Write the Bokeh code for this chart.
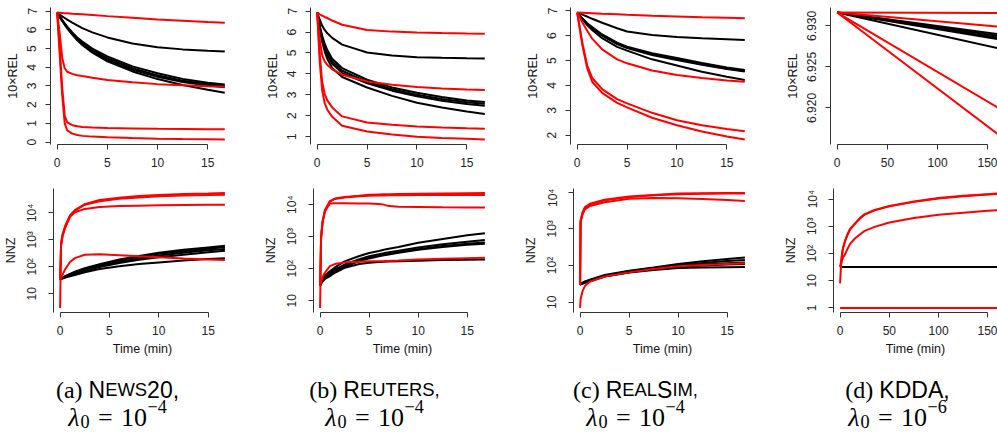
import math
from bokeh.plotting import figure
from bokeh.layouts import row, column
from bokeh.models import Range1d, FixedTicker, Label, PrintfTickFormatter
from bokeh.embed import file_html
from bokeh.resources import INLINE

# ------------------------------------------------------------------ data
# ---- NEWS20 ----
NEWS20_T_REL = [0, 0.25, 0.5, 0.75, 1, 1.5, 2, 2.5, 3.5, 5, 7.5, 10, 12.5, 15, 16.7]
NEWS20_REL_RED = [
    [6.93, 6.92, 6.91, 6.90, 6.89, 6.87, 6.86, 6.84, 6.80, 6.74, 6.65, 6.56, 6.49, 6.42, 6.38],
    [6.93, 5.80, 4.50, 3.95, 3.76, 3.65, 3.58, 3.53, 3.44, 3.32, 3.20, 3.10, 3.04, 2.99, 2.96],
    [6.93, 5.00, 2.90, 1.40, 1.05, 0.90, 0.84, 0.81, 0.78, 0.75, 0.73, 0.71, 0.70, 0.69, 0.68],
    [6.93, 4.70, 2.50, 1.00, 0.62, 0.45, 0.38, 0.33, 0.29, 0.25, 0.21, 0.18, 0.16, 0.15, 0.14],
]
NEWS20_REL_BLACK = [
    [6.93, 6.83, 6.73, 6.64, 6.55, 6.39, 6.24, 6.10, 5.87, 5.60, 5.27, 5.08, 4.96, 4.88, 4.84],
    [6.93, 6.72, 6.53, 6.35, 6.18, 5.87, 5.60, 5.38, 5.00, 4.58, 4.05, 3.68, 3.38, 3.17, 3.08],
    [6.93, 6.71, 6.51, 6.32, 6.14, 5.82, 5.54, 5.31, 4.92, 4.48, 3.95, 3.57, 3.28, 3.09, 3.00],
    [6.93, 6.70, 6.49, 6.29, 6.11, 5.78, 5.49, 5.25, 4.85, 4.40, 3.87, 3.49, 3.21, 3.03, 2.93],
    [6.93, 6.70, 6.48, 6.28, 6.09, 5.75, 5.45, 5.20, 4.78, 4.32, 3.78, 3.37, 3.05, 2.80, 2.64],
]
NEWS20_T_NNZ = [0, 0.1, 0.25, 0.5, 1, 1.5, 2.5, 4, 6, 8, 10, 12.5, 15, 16.7]
NEWS20_NNZ_RED = [
    [3, 800, 1600, 3200, 8000, 12600, 21000, 30000, 36000, 42000, 46000, 50000, 52000, 54000],
    [33, 630, 1400, 2800, 7600, 12000, 20000, 27000, 33000, 37000, 41000, 44000, 46000, 47000],
    [33, 630, 1400, 2800, 7100, 10500, 14000, 16600, 17800, 18400, 19000, 19500, 19800, 20000],
    [33, 40, 50, 80, 150, 210, 280, 295, 270, 245, 225, 205, 188, 178],
]
NEWS20_NNZ_BLACK = [
    [35, 37, 40, 45, 55, 66, 89, 126, 186, 251, 331, 427, 525, 603],
    [35, 37, 39, 44, 52, 63, 83, 117, 174, 234, 302, 380, 468, 537],
    [35, 36, 38, 42, 50, 59, 79, 107, 155, 204, 263, 331, 407, 457],
    [35, 36, 37, 41, 48, 55, 71, 98, 138, 182, 224, 282, 347, 398],
    [35, 36, 37, 40, 45, 50, 63, 83, 105, 126, 145, 170, 195, 209],
]

# ---- REUTERS ----
REUTERS_T_REL = [0, 0.25, 0.5, 0.75, 1, 1.5, 2.5, 5, 7.5, 10, 12.5, 15, 16.8]
REUTERS_REL_RED = [
    [6.93, 6.85, 6.78, 6.72, 6.67, 6.55, 6.35, 6.10, 6.02, 5.98, 5.95, 5.93, 5.92],
    [6.93, 5.63, 4.90, 4.60, 4.44, 4.22, 3.96, 3.64, 3.48, 3.37, 3.30, 3.25, 3.23],
    [6.93, 5.00, 3.60, 3.05, 2.75, 2.40, 1.97, 1.68, 1.57, 1.49, 1.44, 1.40, 1.38],
    [6.93, 4.60, 3.20, 2.60, 2.30, 1.95, 1.52, 1.25, 1.10, 1.00, 0.94, 0.90, 0.87],
]
REUTERS_REL_BLACK = [
    [6.93, 6.60, 6.30, 6.10, 5.95, 5.72, 5.40, 5.02, 4.88, 4.80, 4.77, 4.75, 4.74],
    [6.93, 6.30, 5.82, 5.45, 5.15, 4.72, 4.28, 3.72, 3.35, 3.10, 2.90, 2.73, 2.66],
    [6.93, 6.25, 5.74, 5.35, 5.04, 4.60, 4.15, 3.62, 3.27, 3.00, 2.80, 2.65, 2.58],
    [6.93, 6.20, 5.66, 5.25, 4.93, 4.49, 4.05, 3.55, 3.20, 2.93, 2.72, 2.56, 2.48],
    [6.93, 6.10, 5.52, 5.08, 4.74, 4.28, 3.85, 3.35, 2.95, 2.62, 2.40, 2.20, 2.08],
]
REUTERS_T_NNZ = [0, 0.1, 0.25, 0.5, 1, 1.5, 2.5, 4, 5, 6, 6.5, 7, 8, 10, 12.5, 15, 16.8]
REUTERS_NNZ_RED = [
    [6, 1000, 3000, 6800, 12900, 15500, 17400, 19000, 20400, 20800, 21000, 21100, 21400, 21800, 22300, 22700, 22900],
    [30, 900, 2800, 6500, 12500, 15000, 16800, 18200, 19000, 19300, 19400, 19500, 19700, 19900, 20000, 20100, 20000],
    [30, 900, 2800, 6200, 10900, 11000, 11000, 10900, 10800, 10500, 10000, 9000, 8600, 8500, 8300, 8200, 8100],
    [30, 40, 55, 76, 120, 140, 158, 165, 170, 172, 173, 175, 180, 195, 205, 213, 219],
]
REUTERS_NNZ_BLACK = [
    [30, 38, 48, 62, 83, 110, 170, 250, 309, 360, 390, 420, 480, 645, 850, 1100, 1290],
    [30, 36, 44, 56, 74, 95, 135, 200, 245, 285, 305, 325, 365, 457, 580, 700, 794],
    [30, 35, 42, 52, 66, 85, 120, 180, 219, 255, 273, 290, 325, 407, 510, 600, 660],
    [30, 35, 41, 51, 64, 82, 115, 172, 210, 245, 262, 280, 315, 390, 480, 560, 600],
    [30, 34, 40, 48, 59, 75, 107, 140, 155, 162, 165, 168, 172, 178, 186, 191, 195],
]

# ---- REALSIM ----
REALSIM_T_REL = [0, 0.5, 1, 1.5, 2.5, 4, 5, 7.5, 10, 12.5, 15, 16.8]
REALSIM_REL_RED = [
    [6.93, 6.92, 6.91, 6.90, 6.88, 6.86, 6.84, 6.80, 6.77, 6.74, 6.72, 6.70],
    [6.93, 6.55, 6.20, 5.88, 5.45, 5.05, 4.89, 4.60, 4.42, 4.30, 4.20, 4.15],
    [6.93, 5.75, 4.80, 4.30, 3.85, 3.45, 3.28, 2.90, 2.60, 2.40, 2.25, 2.16],
    [6.93, 5.65, 4.70, 4.15, 3.70, 3.30, 3.12, 2.70, 2.40, 2.15, 1.95, 1.83],
]
REALSIM_REL_BLACK = [
    [6.93, 6.85, 6.77, 6.68, 6.52, 6.30, 6.17, 6.03, 5.95, 5.90, 5.86, 5.83],
    [6.93, 6.70, 6.50, 6.35, 6.05, 5.72, 5.56, 5.30, 5.10, 4.90, 4.72, 4.62],
    [6.93, 6.69, 6.48, 6.32, 6.02, 5.68, 5.52, 5.25, 5.05, 4.85, 4.68, 4.58],
    [6.93, 6.68, 6.47, 6.30, 6.00, 5.66, 5.50, 5.22, 5.02, 4.83, 4.66, 4.56],
    [6.93, 6.66, 6.43, 6.23, 5.90, 5.55, 5.40, 5.05, 4.80, 4.55, 4.35, 4.22],
]
REALSIM_T_NNZ = [0, 0.05, 0.25, 0.5, 1, 2.5, 5, 7.5, 10, 12.5, 15, 16.8]
REALSIM_NNZ_RED = [
    [30, 1700, 2800, 3900, 4800, 6200, 7600, 8400, 9100, 9300, 9400, 9400],
    [30, 1600, 2700, 3700, 4600, 6000, 7300, 8200, 8800, 9000, 9100, 9200],
    [30, 1500, 2500, 3400, 4200, 5300, 6600, 6900, 6800, 6500, 6100, 5750],
    [7, 12, 20, 28, 36, 50, 65, 80, 95, 103, 110, 115],
]
REALSIM_NNZ_BLACK = [
    [30, 31, 34, 37, 41, 55, 72, 88, 110, 130, 150, 166],
    [30, 31, 33, 36, 40, 53, 70, 85, 103, 118, 132, 141],
    [30, 31, 33, 35, 39, 52, 68, 82, 97, 107, 115, 120],
    [30, 31, 32, 35, 38, 51, 66, 80, 93, 100, 106, 110],
    [30, 31, 32, 34, 37, 50, 64, 76, 85, 88, 90, 91],
]

# ---- KDDA ----
KDDA_T_REL = [0, 167]
KDDA_REL_RED = [
    [6.93162, 6.93155],
    [6.93162, 6.92983],
    [6.93162, 6.91954],
    [6.93162, 6.91616],
]
KDDA_REL_BLACK = [
    [6.93162, 6.92887],
    [6.93162, 6.92865],
    [6.93162, 6.92844],
    [6.93162, 6.92823],
    [6.93162, 6.92709],
]
KDDA_T_NNZ = [0, 1, 2, 3, 5, 7.5, 10, 15, 20, 25, 35, 50, 75, 100, 125, 150, 167]
KDDA_NNZ_RED = [
    [8, 40, 90, 160, 290, 500, 780, 1260, 2000, 2800, 4000, 5600, 8100, 11000, 13200, 15100, 16600],
    [32, 50, 100, 160, 280, 480, 750, 1220, 1900, 2700, 3850, 5400, 7900, 10600, 12700, 14600, 16000],
    [32, 40, 56, 71, 93, 148, 220, 355, 500, 680, 950, 1380, 2000, 2630, 3160, 3720, 3980],
    [1, 1, 1, 1, 1, 1, 1, 1, 1, 1, 1, 1, 1, 1, 1, 1, 1],
]
KDDA_NNZ_BLACK = [
    [32, 32, 32, 32, 32, 32, 32, 32, 32, 32, 32, 32, 32, 32, 32, 32, 32],
    [32, 32, 32, 32, 32, 32, 32, 32, 32, 32, 32, 32, 32, 32, 32, 32, 32],
    [32, 32, 32, 32, 32, 32, 32, 32, 32, 32, 32, 32, 32, 32, 32, 32, 32],
    [32, 32, 32, 32, 32, 32, 32, 32, 32, 32, 32, 32, 32, 32, 32, 32, 32],
    [32, 32, 32, 32, 32, 32, 32, 32, 32, 32, 32, 32, 32, 32, 32, 32, 32],
]

# ticks
X_TICKS_MIN = [0, 5, 10, 15]
X_TICKS_KDDA = [0, 50, 100, 150]
Y_TICKS_NEWS20 = [0, 1, 2, 3, 4, 5, 6, 7]
Y_TICKS_REUTERS = [1, 2, 3, 4, 5, 6, 7]
Y_TICKS_REALSIM = [2, 3, 4, 5, 6, 7]
Y_TICKS_KDDA = [6.920, 6.925, 6.930]
NNZ_TICKS = [1, 10, 100, 1000, 10000]
NNZ_TICK_LABELS = ["1", "10", "10²", "10³", "10⁴"]

# captions
CAPTION_LETTERS = ["(a)", "(b)", "(c)", "(d)"]
DATASET_NAMES = ["News20", "Reuters", "RealSim", "KDDA"]
LAMBDA_EXPONENTS = ["−4", "−4", "−4", "−6"]

Y_LABEL_REL = "10×REL"
Y_LABEL_NNZ = "NNZ"
X_LABEL = "Time (min)"

# ------------------------------------------------------------------ style / layout
RED = "#FF0000"
BLACK = "#000000"
AXIS = "#333333"
SANS = "Liberation Sans"
SERIF = "Liberation Serif"

COL_W = 260
LEFT = 50
FRAME_W = 181
TOTAL_W = 997
TOTAL_H = 433
TOP_PAD = 7
TOP_FRAME_H = 137
TOP_H = 188
BOT_H = 170
BOT_FRAME_H = 124
CAP_H = TOTAL_H - TOP_H - BOT_H


def r_range(vals, log=False):
    if log:
        vals = [math.log10(v) for v in vals]
    lo, hi = min(vals), max(vals)
    pad = 0.04 * (hi - lo)
    return lo - pad, hi + pad


def make_panel(col, t, black, red, kind, xticks, yticks, ylabel, xlabel=None, yfmt=None):
    last = col == 3
    width = TOTAL_W - 3 * COL_W if last else COL_W
    frame_w = width - LEFT if last else FRAME_W
    xlo, xhi = r_range(t)
    if last:
        xhi = xlo + (xhi - xlo) * frame_w / FRAME_W
    log = kind == "nnz"
    allv = [v for s in black + red for v in s]
    ylo, yhi = r_range(allv, log)
    yr = Range1d(10 ** ylo, 10 ** yhi) if log else Range1d(ylo, yhi)
    top = kind == "rel"
    h = TOP_H if top else BOT_H
    fh = TOP_FRAME_H if top else BOT_FRAME_H
    bt = TOP_PAD if top else 0
    p = figure(width=width, height=h, x_range=Range1d(xlo, xhi), y_range=yr,
               y_axis_type="log" if log else "linear",
               output_backend="svg", toolbar_location=None,
               min_border_left=LEFT, min_border_right=width - LEFT - frame_w,
               min_border_top=bt, min_border_bottom=h - fh - bt)
    p.grid.visible = False
    p.outline_line_color = None
    for s in black:
        p.line(t, s, line_color=BLACK, line_width=2)
    for s in red:
        p.line(t, s, line_color=RED, line_width=2)

    p.xaxis.ticker = FixedTicker(ticks=xticks)
    p.xaxis.bounds = (xticks[0], xticks[-1])
    p.yaxis.ticker = FixedTicker(ticks=yticks)
    for ax in p.axis:
        ax.axis_line_color = AXIS
        ax.axis_line_width = 1
        ax.major_tick_line_color = AXIS
        ax.major_tick_out = 5
        ax.major_tick_in = 0
        ax.minor_tick_line_color = None
        ax.major_label_text_font = SANS
        ax.major_label_text_font_size = "12px"
        ax.major_label_text_color = "#222222"
        ax.axis_label_text_font = SANS
        ax.axis_label_text_font_size = "12.5px"
        ax.axis_label_text_font_style = "normal"
        ax.axis_label_text_color = "#111111"
    p.xaxis.major_label_standoff = 8
    p.yaxis.major_label_standoff = 9
    p.yaxis.major_label_orientation = "vertical"
    p.yaxis.axis_label = ylabel
    p.yaxis.axis_label_standoff = 5
    if xlabel:
        p.xaxis.axis_label = xlabel
        p.xaxis.axis_label_standoff = 4
    if log:
        p.yaxis.major_label_overrides = dict(zip(NNZ_TICKS, NNZ_TICK_LABELS))
    if yfmt:
        p.yaxis.formatter = PrintfTickFormatter(format=yfmt)
    return p


top_row = [
    make_panel(0, NEWS20_T_REL, NEWS20_REL_BLACK, NEWS20_REL_RED, "rel", X_TICKS_MIN, Y_TICKS_NEWS20, Y_LABEL_REL),
    make_panel(1, REUTERS_T_REL, REUTERS_REL_BLACK, REUTERS_REL_RED, "rel", X_TICKS_MIN, Y_TICKS_REUTERS, Y_LABEL_REL),
    make_panel(2, REALSIM_T_REL, REALSIM_REL_BLACK, REALSIM_REL_RED, "rel", X_TICKS_MIN, Y_TICKS_REALSIM, Y_LABEL_REL),
    make_panel(3, KDDA_T_REL, KDDA_REL_BLACK, KDDA_REL_RED, "rel", X_TICKS_KDDA, Y_TICKS_KDDA, Y_LABEL_REL, yfmt="%.3f"),
]
bot_row = [
    make_panel(0, NEWS20_T_NNZ, NEWS20_NNZ_BLACK, NEWS20_NNZ_RED, "nnz", X_TICKS_MIN, NNZ_TICKS, Y_LABEL_NNZ, X_LABEL),
    make_panel(1, REUTERS_T_NNZ, REUTERS_NNZ_BLACK, REUTERS_NNZ_RED, "nnz", X_TICKS_MIN, NNZ_TICKS, Y_LABEL_NNZ, X_LABEL),
    make_panel(2, REALSIM_T_NNZ, REALSIM_NNZ_BLACK, REALSIM_NNZ_RED, "nnz", X_TICKS_MIN, NNZ_TICKS, Y_LABEL_NNZ, X_LABEL),
    make_panel(3, KDDA_T_NNZ, KDDA_NNZ_BLACK, KDDA_NNZ_RED, "nnz", X_TICKS_KDDA, NNZ_TICKS, Y_LABEL_NNZ, X_LABEL),
]

# ------------------------------------------------------------------ captions
SANS_ADV = {'A': .667, 'B': .667, 'C': .722, 'D': .722, 'E': .667, 'I': .278, 'K': .667, 'L': .556,
            'M': .833, 'N': .722, 'R': .722, 'S': .667, 'T': .611, 'U': .722, 'W': .944,
            '0': .556, '2': .556, ',': .278, ' ': .278}
SERIF_ADV = {'(': .333, ')': .333, 'a': .444, 'b': .5, 'c': .444, 'd': .5, ' ': .25,
             'λ': .48, '0': .5, '1': .5, '4': .5, '6': .5, '=': .564, '−': .564}

CAP_CENTERS = [117, 374, 635, 897]
LINE1_Y = 31
LINE2_Y = 59
S_SERIF1 = 24
S_SANS = 23
SMALL = 0.8
S_SERIF2 = 26

cap = figure(width=TOTAL_W, height=CAP_H, x_range=Range1d(0, TOTAL_W), y_range=Range1d(CAP_H, 0),
             output_backend="svg", toolbar_location=None, min_border=0,
             x_axis_location=None, y_axis_location=None)
cap.outline_line_color = None
cap.grid.visible = False


def adv(text, table, size):
    return sum(table.get(c, 0.55) for c in text) * size


def place(pieces, cx, y):
    # pieces: (text, font, size, style, dy, width, gap_after)
    total = sum(pc[5] + pc[6] for pc in pieces)
    x = cx - total / 2
    for text, font, size, style, dy, w, gap in pieces:
        cap.add_layout(Label(x=x, y=y + dy, text=text, text_font=font,
                             text_font_size=f"{size}px", text_font_style=style,
                             text_color="black", text_align="left", text_baseline="alphabetic"))
        x += w + gap


for i in range(4):
    pcs = []
    lt = CAPTION_LETTERS[i] + " "
    pcs.append((lt, SERIF, S_SERIF1, "normal", 0, adv(lt, SERIF_ADV, S_SERIF1), 0))
    groups = []
    for ch in DATASET_NAMES[i]:
        small = ch.islower()
        if groups and groups[-1][1] == small:
            groups[-1][0] += ch.upper()
        else:
            groups.append([ch.upper(), small])
    groups[-1][0] += ","
    for txt, small in groups:
        sz = round(S_SANS * SMALL, 1) if small else S_SANS
        pcs.append((txt, SANS, sz, "normal", 0, adv(txt, SANS_ADV, sz), 0))
    place(pcs, CAP_CENTERS[i], LINE1_Y)

    s2 = S_SERIF2
    sub = round(s2 * 0.7, 1)
    gap = 0.32 * s2
    pcs2 = [
        ("λ", SERIF, s2, "italic", 0, adv("λ", SERIF_ADV, s2), 0),
        ("0", SERIF, sub, "normal", 0.15 * s2, adv("0", SERIF_ADV, sub), gap),
        ("=", SERIF, s2, "normal", 0, adv("=", SERIF_ADV, s2), gap),
        ("10", SERIF, s2, "normal", 0, adv("10", SERIF_ADV, s2), 0.5),
        (LAMBDA_EXPONENTS[i], SERIF, sub, "normal", -0.42 * s2, adv(LAMBDA_EXPONENTS[i], SERIF_ADV, sub), 0),
    ]
    place(pcs2, CAP_CENTERS[i], LINE2_Y)

layout = column(row(*top_row), row(*bot_row), cap)
open("out.html", "w").write(file_html(layout, INLINE))
